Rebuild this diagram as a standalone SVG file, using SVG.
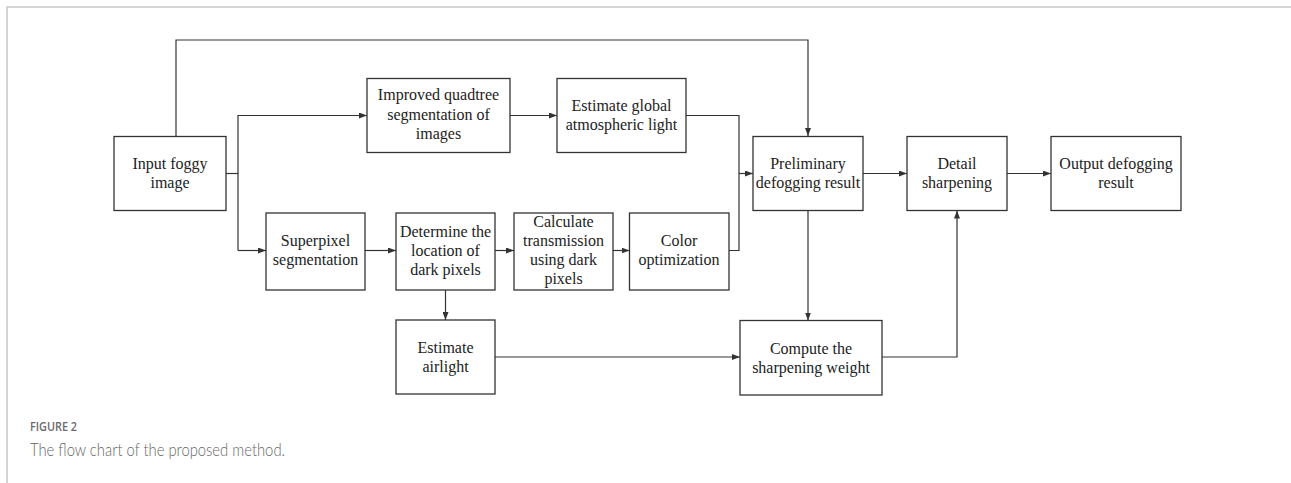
<svg xmlns="http://www.w3.org/2000/svg" width="1291" height="483" viewBox="0 0 1291 483">
  <style>
    .box { fill: #ffffff; stroke: #333333; stroke-width: 1.3; }
    .lbl { font-family: "Liberation Serif", "Times New Roman", serif; font-size: 16px; fill: #222222; text-anchor: middle; }
    .conn { fill: none; stroke: #333333; stroke-width: 1.2; }
    .frame { stroke: #c8c8c8; stroke-width: 1.5; fill: none; }
    .cap1 { font-family: "Open Sans", "Noto Sans", sans-serif; font-size: 13px; font-weight: 600; fill: #6b6b6b; }
    .cap2 { font-family: "Lato", "Open Sans", sans-serif; font-size: 17px; font-weight: 300; fill: #666666; }
  </style>
  <defs>
    <marker id="arr" markerUnits="userSpaceOnUse" markerWidth="8" markerHeight="6" refX="8" refY="3" orient="auto">
      <path d="M0,0 L8,3 L0,6 z" fill="#333333"/>
    </marker>
  </defs>
  <rect width="1291" height="483" fill="#ffffff"/>
  <path class="frame" d="M7,483 L7,7 L1291,7"/>

  <g id="connectors">
    <path class="conn" d="M176,136 L176,40 L808,40 L808,136" marker-end="url(#arr)"/>
    <path class="conn" d="M226,173.5 L238,173.5"/>
    <path class="conn" d="M238,250.5 L238,115.5 L367,115.5" marker-end="url(#arr)"/>
    <path class="conn" d="M238,250.5 L266,250.5" marker-end="url(#arr)"/>
    <path class="conn" d="M510,115.5 L557,115.5" marker-end="url(#arr)"/>
    <path class="conn" d="M686,115.5 L739,115.5 L739,250.5 L729,250.5"/>
    <path class="conn" d="M739,173.5 L753,173.5" marker-end="url(#arr)"/>
    <path class="conn" d="M365,250.5 L396,250.5" marker-end="url(#arr)"/>
    <path class="conn" d="M495,250.5 L514,250.5" marker-end="url(#arr)"/>
    <path class="conn" d="M613,250.5 L629.5,250.5" marker-end="url(#arr)"/>
    <path class="conn" d="M445.5,290 L445.5,320" marker-end="url(#arr)"/>
    <path class="conn" d="M495,357 L740,357" marker-end="url(#arr)"/>
    <path class="conn" d="M808,210.5 L808,320.5" marker-end="url(#arr)"/>
    <path class="conn" d="M882,357 L957,357 L957,210.5" marker-end="url(#arr)"/>
    <path class="conn" d="M863,173.5 L907,173.5" marker-end="url(#arr)"/>
    <path class="conn" d="M1007,173.5 L1051,173.5" marker-end="url(#arr)"/>
  </g>

  <g id="input">
    <rect class="box" x="114" y="136.5" width="112" height="74"/>
    <text class="lbl" x="170" y="169">Input foggy</text>
    <text class="lbl" x="170" y="188">image</text>
  </g>
  <g id="quadtree">
    <rect class="box" x="367" y="78.5" width="143" height="74"/>
    <text class="lbl" x="438.5" y="100">Improved quadtree</text>
    <text class="lbl" x="438.5" y="119.5">segmentation of</text>
    <text class="lbl" x="438.5" y="139">images</text>
  </g>
  <g id="global-light">
    <rect class="box" x="557" y="78.5" width="129" height="74"/>
    <text class="lbl" x="621.5" y="111">Estimate global</text>
    <text class="lbl" x="621.5" y="130">atmospheric light</text>
  </g>
  <g id="superpixel">
    <rect class="box" x="266" y="213" width="99" height="77"/>
    <text class="lbl" x="315.5" y="246">Superpixel</text>
    <text class="lbl" x="315.5" y="265">segmentation</text>
  </g>
  <g id="dark-pixels">
    <rect class="box" x="396" y="213" width="99" height="77"/>
    <text class="lbl" x="445.5" y="237">Determine the</text>
    <text class="lbl" x="445.5" y="256">location of</text>
    <text class="lbl" x="445.5" y="275">dark pixels</text>
  </g>
  <g id="transmission">
    <rect class="box" x="514" y="213" width="99" height="77"/>
    <text class="lbl" x="563.5" y="226.5">Calculate</text>
    <text class="lbl" x="563.5" y="245.5">transmission</text>
    <text class="lbl" x="563.5" y="264.5">using dark</text>
    <text class="lbl" x="563.5" y="283.5">pixels</text>
  </g>
  <g id="color-opt">
    <rect class="box" x="629.5" y="213" width="99.5" height="77"/>
    <text class="lbl" x="679" y="246">Color</text>
    <text class="lbl" x="679" y="265">optimization</text>
  </g>
  <g id="airlight">
    <rect class="box" x="396" y="320" width="99" height="74"/>
    <text class="lbl" x="445.5" y="352.5">Estimate</text>
    <text class="lbl" x="445.5" y="371.5">airlight</text>
  </g>
  <g id="preliminary">
    <rect class="box" x="753" y="136.5" width="110" height="74"/>
    <text class="lbl" x="808" y="169">Preliminary</text>
    <text class="lbl" x="808" y="188">defogging result</text>
  </g>
  <g id="detail">
    <rect class="box" x="907" y="136.5" width="100" height="74"/>
    <text class="lbl" x="957" y="169">Detail</text>
    <text class="lbl" x="957" y="188">sharpening</text>
  </g>
  <g id="output">
    <rect class="box" x="1051" y="136.5" width="130" height="74"/>
    <text class="lbl" x="1116" y="169">Output defogging</text>
    <text class="lbl" x="1116" y="188">result</text>
  </g>
  <g id="weight">
    <rect class="box" x="740" y="320.5" width="142" height="74.5"/>
    <text class="lbl" x="811" y="353.5">Compute the</text>
    <text class="lbl" x="811" y="372.5">sharpening weight</text>
  </g>

  <g id="caption">
    <text class="cap1" x="30" y="430.5" textLength="47" lengthAdjust="spacingAndGlyphs">FIGURE 2</text>
    <text class="cap2" x="30" y="456" textLength="255" lengthAdjust="spacingAndGlyphs">The flow chart of the proposed method.</text>
  </g>
</svg>
